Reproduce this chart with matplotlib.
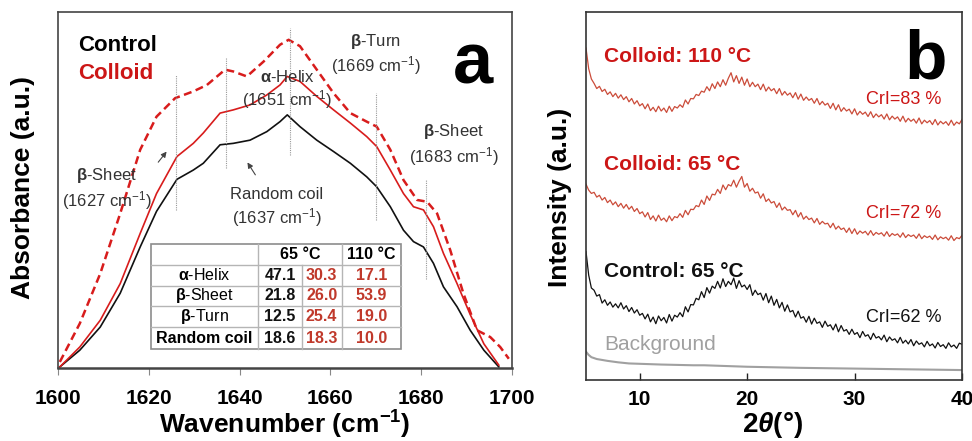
# FTIR (a) e DRX (b) do controle e do coloide
import matplotlib.pyplot as plt
import numpy as np

plt.rcParams['font.family'] = ['Liberation Sans', 'DejaVu Sans']
plt.rcParams['mathtext.fontset'] = 'custom'
plt.rcParams['mathtext.rm'] = 'Liberation Sans'
plt.rcParams['mathtext.it'] = 'Liberation Sans:italic'
plt.rcParams['mathtext.bf'] = 'Liberation Sans:bold'
plt.rcParams['mathtext.bfit'] = 'Liberation Sans:italic:bold'

vermelho = '#d81c1c'
verm_texto = '#cc1616'
verm_tabela = '#c0392b'
verm_drx = '#cb4c3a'

# ---------- dados painel a (FTIR, amida I) ----------
wn = [1600.4, 1604.8, 1609.3, 1613.7, 1618.1, 1621.7, 1626.2, 1629.8, 1632.0, 1635.7,
      1638.6, 1642.3, 1646.0, 1648.9, 1650.5, 1653.3, 1657.0, 1660.7, 1664.4, 1668.0,
      1670.2, 1673.2, 1676.1, 1678.3, 1680.5, 1682.7, 1684.9, 1687.9, 1690.8, 1693.8, 1697.1]
abs_controle = [0.003, 0.05, 0.115, 0.21, 0.34, 0.44, 0.53, 0.556, 0.575, 0.627,
                0.631, 0.64, 0.664, 0.692, 0.711, 0.678, 0.64, 0.608, 0.575, 0.537,
                0.509, 0.453, 0.387, 0.355, 0.34, 0.294, 0.228, 0.172, 0.106, 0.05, 0.003]
abs_coloide65 = [0.003, 0.059, 0.134, 0.237, 0.378, 0.49, 0.594, 0.631, 0.66, 0.716,
                 0.725, 0.739, 0.767, 0.795, 0.819, 0.805, 0.763, 0.725, 0.688, 0.65,
                 0.622, 0.556, 0.49, 0.453, 0.444, 0.397, 0.322, 0.237, 0.15, 0.068, 0.008]
wn_110 = [1600.4, 1604.8, 1609.3, 1613.7, 1618.1, 1621.7, 1625.8, 1629.8, 1632.8, 1636.8,
          1638.6, 1641.6, 1645.3, 1648.9, 1650.8, 1653.3, 1657.0, 1660.7, 1664.4, 1668.0,
          1670.2, 1673.2, 1676.1, 1679.1, 1681.3, 1683.5, 1686.4, 1689.3, 1692.3, 1695.2,
          1697.4, 1699.3]
abs_coloide110 = [0.017, 0.125, 0.265, 0.434, 0.613, 0.706, 0.758, 0.777, 0.795, 0.838,
                  0.833, 0.819, 0.861, 0.908, 0.922, 0.904, 0.838, 0.772, 0.716, 0.692,
                  0.678, 0.613, 0.528, 0.472, 0.467, 0.434, 0.331, 0.209, 0.106, 0.087,
                  0.059, 0.026]

picos = [1626, 1637, 1651, 1670, 1681]
pico_base = [0.444, 0.561, 0.598, 0.416, 0.251]
pico_topo = [0.824, 0.873, 0.955, 0.772, 0.528]

# tabela de estrutura secundaria (%)
estruturas = [r'$\mathbf{\alpha}$-Helix', r'$\mathbf{\beta}$-Sheet', r'$\mathbf{\beta}$-Turn', 'Random coil']
controle_65 = [47.1, 21.8, 12.5, 18.6]
coloide_65 = [30.3, 26.0, 25.4, 18.3]
coloide_110 = [17.1, 53.9, 19.0, 10.0]

# ---------- dados painel b (DRX) ----------
theta2 = np.arange(5, 40.01, 0.25)
drx_controle = [349, 285, 250, 244, 228, 232, 209, 218, 203, 212,
                198, 207, 196, 210, 193, 202, 186, 197, 182, 191,
                176, 181, 166, 179, 158, 171, 153, 174, 161, 170,
                155, 178, 160, 176, 171, 183, 172, 199, 185, 205,
                204, 222, 218, 240, 224, 251, 236, 255, 249, 268,
                250, 275, 254, 268, 259, 277, 249, 270, 253, 258,
                246, 259, 230, 244, 232, 236, 217, 235, 210, 228,
                203, 219, 196, 211, 187, 204, 185, 189, 171, 187,
                168, 172, 157, 173, 152, 168, 154, 158, 143, 160,
                146, 150, 136, 152, 131, 148, 133, 137, 124, 138,
                124, 129, 115, 132, 119, 123, 110, 127, 114, 118,
                109, 122, 104, 117, 108, 112, 101, 116, 100, 108,
                98, 110, 93, 106, 97, 101, 90, 105, 93, 98,
                87, 102, 91, 96, 86, 101, 90, 95, 86, 100,
                97]
drx_coloide65 = [532, 516, 507, 510, 497, 502, 489, 496, 482, 489,
                 476, 484, 471, 480, 467, 477, 464, 472, 458, 466,
                 452, 457, 443, 455, 436, 446, 432, 448, 434, 440,
                 430, 446, 433, 444, 441, 452, 442, 461, 449, 464,
                 463, 474, 471, 489, 477, 500, 488, 505, 503, 518,
                 507, 530, 517, 531, 527, 543, 524, 540, 553, 524,
                 534, 513, 521, 508, 511, 494, 506, 485, 492, 481,
                 485, 469, 481, 462, 470, 461, 463, 449, 461, 443,
                 455, 437, 445, 436, 440, 427, 439, 423, 431, 424,
                 426, 414, 426, 410, 418, 409, 413, 401, 413, 398,
                 411, 396, 405, 399, 404, 394, 406, 393, 401, 396,
                 400, 391, 403, 390, 398, 393, 397, 388, 400, 387,
                 395, 390, 394, 385, 397, 384, 392, 387, 391, 382,
                 394, 381, 389, 384, 388, 380, 392, 379, 387, 384,
                 393]
drx_coloide110 = [902, 846, 818, 806, 792, 798, 784, 790, 776, 783,
                  770, 779, 766, 775, 762, 770, 756, 765, 750, 759,
                  745, 751, 737, 750, 732, 741, 729, 744, 731, 739,
                  727, 744, 730, 743, 739, 748, 741, 761, 750, 765,
                  764, 776, 773, 785, 782, 797, 786, 805, 792, 810,
                  797, 816, 801, 820, 835, 810, 827, 806, 823, 801,
                  818, 797, 809, 797, 804, 789, 804, 785, 796, 786,
                  792, 778, 792, 774, 784, 774, 780, 767, 781, 763,
                  777, 760, 769, 760, 765, 752, 765, 748, 757, 747,
                  752, 738, 752, 734, 748, 730, 740, 731, 736, 723,
                  737, 720, 730, 722, 728, 716, 729, 713, 723, 715,
                  721, 709, 723, 707, 717, 709, 715, 703, 717, 701,
                  711, 703, 709, 698, 712, 696, 706, 699, 705, 694,
                  708, 693, 703, 696, 702, 692, 706, 692, 701, 696,
                  708]
theta2_fundo = [5, 5.25, 5.5, 6, 7, 8, 9, 10, 12, 15, 16, 18, 20, 25, 30, 35, 40]
drx_fundo = [77, 68, 62, 57, 52, 48, 45, 44, 42, 40, 40, 38, 36, 33, 31, 29, 27]
cristalinidade = [83, 72, 62]

fig = plt.figure(figsize=(9.72, 4.41), dpi=100)
ax = [fig.add_axes([58/972, 73/441, 454/972, 356/441]),
      fig.add_axes([586/972, 61/441, 376/972, 368/441])]

# ================= painel a =================
a = ax[0]
a.plot(wn, abs_controle, color='#111111', lw=1.2)
a.plot(wn, abs_coloide65, color=vermelho, lw=1.2)
a.plot(wn_110, abs_coloide110, color=vermelho, lw=1.8, dashes=(3.2, 1.8))
a.vlines(picos, pico_base, pico_topo, colors='#999999', lw=0.8, linestyles=(0, (1, 1)))

a.text(1604.5, 0.905, 'Control', fontsize=16, fontweight='bold', color='black', va='center')
a.text(1604.5, 0.826, 'Colloid', fontsize=16, fontweight='bold', color=verm_texto, va='center')
a.text(0.915, 0.80, 'a', transform=a.transAxes, fontsize=52, fontweight='bold', ha='center', va='baseline')

cor_txt = '#333333'
a.text(1610.7, 0.503, r'$\mathbf{\beta}$-Sheet' + '\n' + r'(1627 cm$^{-1}$)', ha='center', va='center', fontsize=12, color=cor_txt)
a.text(1648.1, 0.449, 'Random coil\n' + r'(1637 cm$^{-1}$)', ha='center', va='center', fontsize=12, color=cor_txt)
a.text(1650.5, 0.781, r'$\mathbf{\alpha}$-Helix' + '\n' + r'(1651 cm$^{-1}$)', ha='center', va='center', fontsize=12, color=cor_txt)
a.text(1670.0, 0.880, r'$\mathbf{\beta}$-Turn' + '\n' + r'(1669 cm$^{-1}$)', ha='center', va='center', fontsize=12, color=cor_txt)
a.text(1687.1, 0.626, r'$\mathbf{\beta}$-Sheet' + '\n' + r'(1683 cm$^{-1}$)', ha='center', va='center', fontsize=12, color=cor_txt)

seta = dict(arrowstyle='-|>', color='#444444', lw=0.8, mutation_scale=8)
a.annotate('', xy=(1624.3, 0.614), xytext=(1621.7, 0.572), arrowprops=seta)
a.annotate('', xy=(1641.4, 0.584), xytext=(1643.8, 0.536), arrowprops=seta)

# tabela
col = [0.2042, 0.4412, 0.5368, 0.6248, 0.7555]
lin = [0.3475, 0.2893, 0.2312, 0.1733, 0.1143, 0.0534]
a.add_patch(plt.Rectangle((col[0], lin[-1]), col[-1]-col[0], lin[0]-lin[-1], transform=a.transAxes,
                          facecolor='white', edgecolor='#8c8c8c', lw=1.2, zorder=3))
for y in lin[1:-1]:
    a.plot([col[0], col[-1]], [y, y], transform=a.transAxes, color='#b5b5b5', lw=1, zorder=4)
for x in [col[1], col[3]]:
    a.plot([x, x], [lin[0], lin[-1]], transform=a.transAxes, color='#b5b5b5', lw=1, zorder=4)
a.plot([col[2], col[2]], [lin[1], lin[-1]], transform=a.transAxes, color='#b5b5b5', lw=1, zorder=4)

fs_tab = 11.5
a.text((col[1]+col[3])/2, (lin[0]+lin[1])/2, '65 °C', transform=a.transAxes, ha='center', va='center',
       fontsize=fs_tab, fontweight='bold', zorder=5)
a.text((col[3]+col[4])/2, (lin[0]+lin[1])/2, '110 °C', transform=a.transAxes, ha='center', va='center',
       fontsize=fs_tab, fontweight='bold', zorder=5)
for i in range(len(estruturas)):
    yc = (lin[i+1] + lin[i+2]) / 2
    peso = 'bold' if estruturas[i] == 'Random coil' else 'normal'
    a.text((col[0]+col[1])/2, yc, estruturas[i], transform=a.transAxes, ha='center', va='center',
           fontsize=fs_tab, fontweight=peso, zorder=5)
    valores = [controle_65[i], coloide_65[i], coloide_110[i]]
    cores = ['#111111', verm_tabela, verm_tabela]
    for j in range(3):
        a.text((col[j+1]+col[j+2])/2, yc, '%.1f' % valores[j], transform=a.transAxes, ha='center',
               va='center', fontsize=fs_tab, fontweight='bold', color=cores[j], zorder=5)

a.set_xlim(1600, 1700)
a.set_ylim(0, 1)
a.set_xticks([1600, 1620, 1640, 1660, 1680, 1700])
a.set_yticks([])
a.tick_params(axis='x', direction='out', length=5, width=0.8, color='#888888', labelsize=15, pad=10)
for t in a.get_xticklabels():
    t.set_fontweight('bold')
for s in a.spines.values():
    s.set_color('#444444')
    s.set_linewidth(1.2)
a.spines['bottom'].set_linewidth(1.8)
a.set_xlabel(r'Wavenumber (cm$^{\mathbf{-1}}$)', fontsize=19, fontweight='bold', va='center')
a.xaxis.set_label_coords(0.5, -0.16)
a.set_ylabel('Absorbance (a.u.)', fontsize=19, fontweight='bold', va='center')
a.yaxis.set_label_coords(-0.077, 0.508)

# ================= painel b =================
b = ax[1]
b.plot(theta2_fundo, drx_fundo, color='#a0a0a0', lw=1.5)
b.plot(theta2, drx_controle, color='#111111', lw=0.9)
b.plot(theta2, drx_coloide65, color=verm_drx, lw=0.9)
b.plot(theta2, drx_coloide110, color=verm_drx, lw=0.9)

b.text(0.048, 0.879, 'Colloid: 110 °C', transform=b.transAxes, fontsize=15, fontweight='bold', color=verm_texto, va='center')
b.text(0.048, 0.586, 'Colloid: 65 °C', transform=b.transAxes, fontsize=15, fontweight='bold', color=verm_texto, va='center')
b.text(0.048, 0.296, 'Control: 65 °C', transform=b.transAxes, fontsize=15, fontweight='bold', color='#111111', va='center')
b.text(0.048, 0.097, 'Background', transform=b.transAxes, fontsize=15, color='#a0a0a0', va='center')
b.text(0.946, 0.762, 'CrI=%d %%' % cristalinidade[0], transform=b.transAxes, fontsize=13, color=verm_texto, ha='right', va='center')
b.text(0.946, 0.453, 'CrI=%d %%' % cristalinidade[1], transform=b.transAxes, fontsize=13, color=verm_texto, ha='right', va='center')
b.text(0.946, 0.169, 'CrI=%d %%' % cristalinidade[2], transform=b.transAxes, fontsize=13, color='#111111', ha='right', va='center')
b.text(0.903, 0.82, 'b', transform=b.transAxes, fontsize=50, fontweight='bold', ha='center', va='baseline')

b.set_xlim(5, 40)
b.set_ylim(0, 1000)
b.set_xticks([10, 20, 30, 40])
b.set_yticks([])
b.tick_params(axis='x', direction='in', length=5, width=1, color='#222222', labelsize=15, pad=7)
for t in b.get_xticklabels():
    t.set_fontweight('bold')
for s in b.spines.values():
    s.set_color('#333333')
    s.set_linewidth(1.2)
b.set_xlabel(r'2$\mathbfit{\theta}$(°)', fontsize=20, fontweight='bold', va='center')
b.xaxis.set_label_coords(0.497, -0.122)
b.set_ylabel('Intensity (a.u.)', fontsize=19, fontweight='bold', va='center')
b.yaxis.set_label_coords(-0.069, 0.497)

fig.savefig('out.png', dpi=100)
